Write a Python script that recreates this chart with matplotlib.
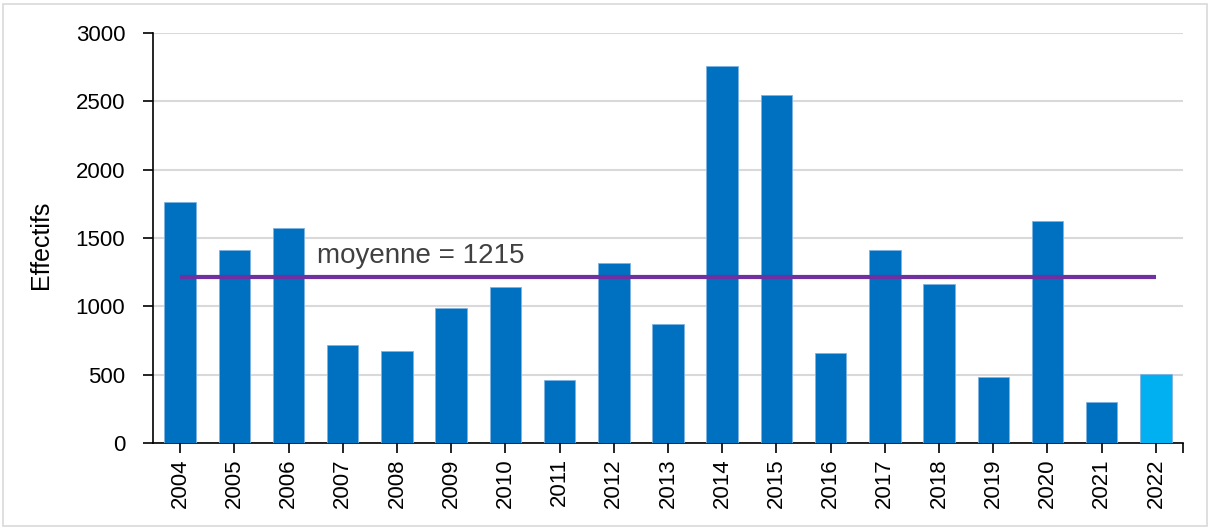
import matplotlib
matplotlib.use("Agg")
import matplotlib.pyplot as plt
from matplotlib.patches import Rectangle

years = ["2004", "2005", "2006", "2007", "2008", "2009", "2010", "2011", "2012", "2013",
         "2014", "2015", "2016", "2017", "2018", "2019", "2020", "2021", "2022"]
values = [1765, 1415, 1570, 715, 675, 985, 1140, 460, 1315, 870,
          2760, 2545, 655, 1415, 1160, 480, 1625, 300, 505]
mean_value = 1215
mean_label = "moyenne = 1215"
yticks = [0, 500, 1000, 1500, 2000, 2500, 3000]

plt.rcParams['font.family'] = ['Liberation Sans', 'DejaVu Sans']

fig = plt.figure(figsize=(12.11, 5.29), dpi=100)
ax = fig.add_axes([153/1211, 1-443/529, 1030/1211, 410/529])

fig.patches.append(Rectangle((3/1211, 3/529), 1204/1211, 522/529, transform=fig.transFigure,
                             fill=False, edgecolor='#D9D9D9', linewidth=1.2))

x = list(range(len(years)))
colors = ['#0070C0'] * (len(years) - 1) + ['#00B0F0']
ax.bar(x, values, width=0.58, color=colors, edgecolor='#7FB3E0', linewidth=0.6, zorder=3)

ax.plot([x[0], x[-1]], [mean_value, mean_value], color='#7030A0', linewidth=3, zorder=4,
        solid_capstyle='butt')
ax.text(2.53, mean_value + 55, mean_label, fontsize=20, color='#404040', ha='left', va='bottom', zorder=5)

ax.set_xlim(-0.5, len(years) - 0.5)
ax.set_ylim(0, 3000)
ax.set_yticks(yticks)
ax.set_yticklabels([str(v) for v in yticks], fontsize=16)
ax.set_xticks(x)
ax.set_xticklabels(years, rotation=90, fontsize=16)
ax.set_xticks([len(years) - 0.5], minor=True)
ax.tick_params(axis='x', which='minor', length=7, width=1.2, direction='out')
ax.tick_params(axis='x', which='major', length=7, width=1.2, direction='out', pad=4)
ax.tick_params(axis='y', which='major', length=7, width=1.2, direction='out', pad=13)

ax.grid(axis='y', color='#D9D9D9', linewidth=1.5, zorder=0)
ax.set_axisbelow(True)
for s in ['top', 'right']:
    ax.spines[s].set_visible(False)
for s in ['left', 'bottom']:
    ax.spines[s].set_linewidth(1.2)
    ax.spines[s].set_color('black')

ax.set_ylabel("Effectifs", fontsize=18, color='black')
ax.yaxis.set_label_coords(-0.097, 0.483)

fig.savefig("out.png", dpi=100)
